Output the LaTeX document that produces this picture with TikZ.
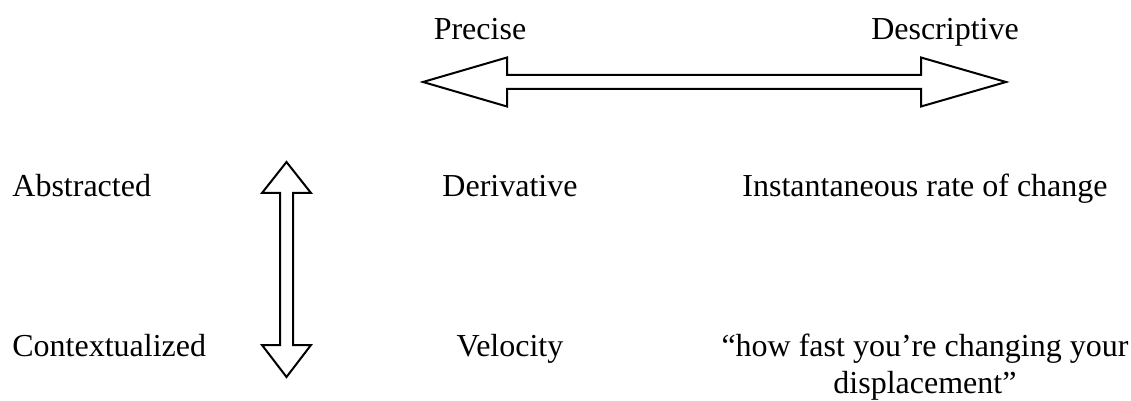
\documentclass[tikz,border=0pt]{standalone}
\usepackage{fontspec}
\setmainfont{Liberation Serif}
\usetikzlibrary{positioning,calc}

\begin{document}
\begin{tikzpicture}[
  x=0.5pt, y=-0.5pt,
  every node/.style={font=\fontsize{16}{18.5}\selectfont, inner sep=0pt},
  lbl/.style={anchor=base},
  rowlbl/.style={anchor=base west},
  fatarrow/.style={draw, line width=1pt, fill=white, line join=miter}
]
\useasboundingbox (0,0) rectangle (1131,401);

% scale ends
\node[lbl] (prec) at (480,40) {Precise};
\node[lbl] (desc) at (945,40) {Descriptive};

% rows
\node[rowlbl] (abs) at (12,197) {Abstracted};
\node[rowlbl] (ctx) at (12,356) {Contextualized};
\node[lbl] (deriv) at (510,197) {Derivative};
\node[lbl] (vel) at (510,356) {Velocity};
\node[lbl] (inst) at (925,197) {Instantaneous rate of change};
% base of a two-line node sits on its last line
\node[lbl, align=center] (fast) at (925,393) {``how fast you're changing your\\displacement''};

% horizontal double arrow
\coordinate (hl) at (423,82);
\coordinate (hr) at (1006,82);
\draw[fatarrow] (hl) -- ($(hl)+(84,-24.5)$) -- ($(hl)+(84,-7)$) -- ($(hr)+(-85,-7)$)
  -- ($(hr)+(-85,-24.5)$) -- (hr) -- ($(hr)+(-85,24.5)$) -- ($(hr)+(-85,7)$)
  -- ($(hl)+(84,7)$) -- ($(hl)+(84,24.5)$) -- cycle;

% vertical double arrow
\coordinate (vt) at (286.5,162);
\coordinate (vb) at (286.5,377);
\draw[fatarrow] (vt) -- ($(vt)+(24.5,31)$) -- ($(vt)+(6.5,31)$) -- ($(vb)+(6.5,-32)$)
  -- ($(vb)+(24.5,-32)$) -- (vb) -- ($(vb)+(-24.5,-32)$) -- ($(vb)+(-6.5,-32)$)
  -- ($(vt)+(-6.5,31)$) -- ($(vt)+(-24.5,31)$) -- cycle;
\end{tikzpicture}
\end{document}
